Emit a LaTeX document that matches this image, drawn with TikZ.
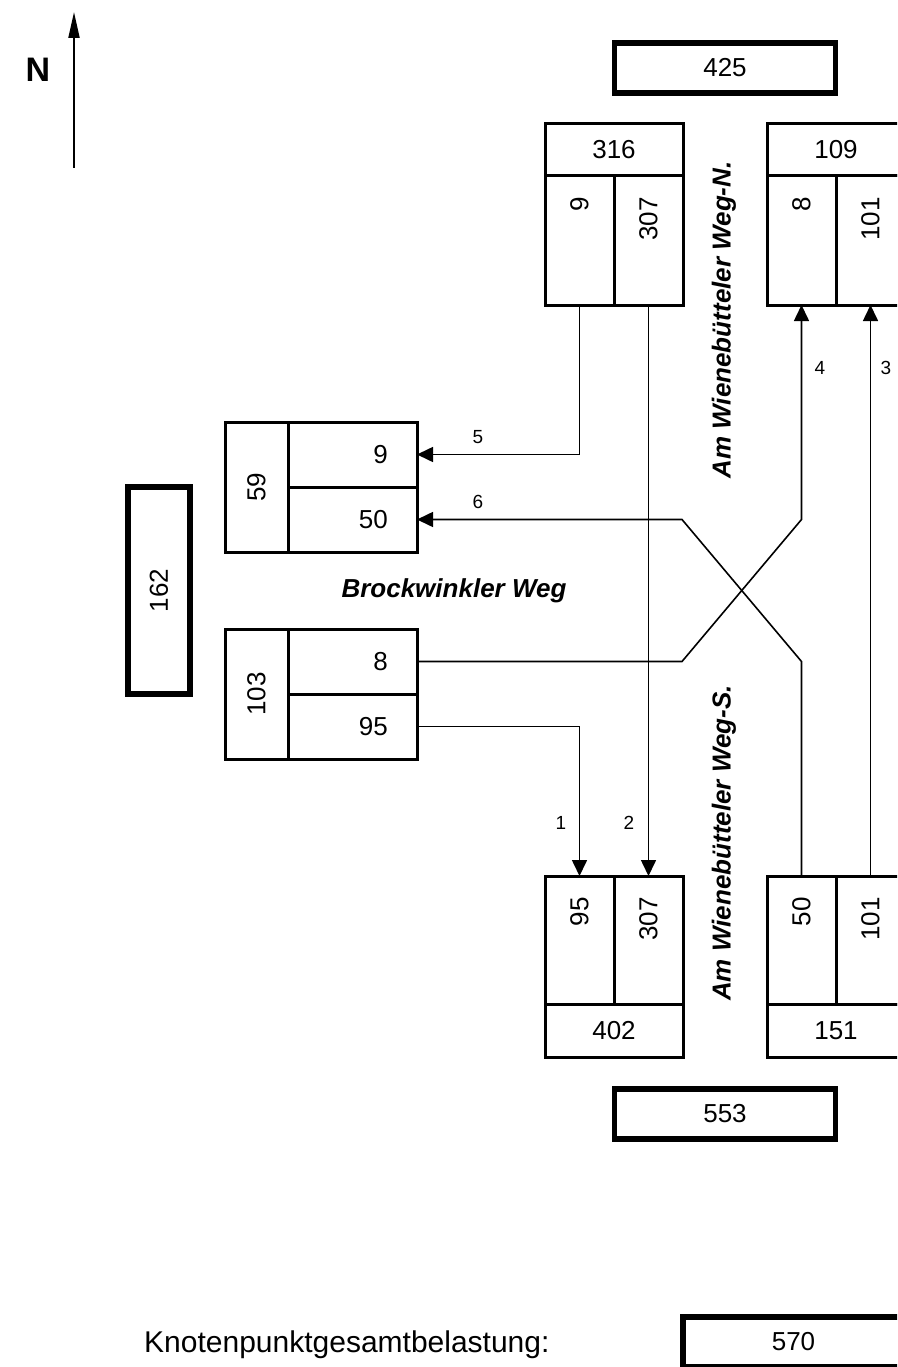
\documentclass[tikz,border=0pt]{standalone}
\usepackage{fontspec}
\setmainfont{Liberation Sans}
\usetikzlibrary{arrows.meta, positioning}

\begin{document}
\begin{tikzpicture}[
    x=1pt, y=-1pt,
    every node/.style={font=\fontsize{26}{30}\selectfont, inner sep=0pt},
    cell/.style={rectangle, draw=black, line width=3pt, outer sep=0pt},
    wide/.style={cell, minimum width=138pt, minimum height=52pt},
    lane/.style={cell, minimum width=69pt, minimum height=129pt},
    half/.style={cell, minimum width=129pt, minimum height=65pt},
    side/.style={cell, minimum width=63pt, minimum height=130pt},
    total/.style={rectangle, draw=black, line width=5.5pt, outer sep=0pt, minimum width=221pt, minimum height=50pt},
    upright/.style={rotate=90, anchor=east},
    road/.style={font=\fontsize{26}{30}\selectfont\bfseries\itshape},
    tag/.style={font=\fontsize{19}{22}\selectfont},
    flow/.style={line width=1.6pt},
    arrow/.style={flow, -{Triangle[length=16pt, width=15pt]}}
]
\useasboundingbox (0,0) rectangle (897,1367);
\clip (0,0) rectangle (897,1367);

% north arrow
\node[font=\fontsize{34}{40}\selectfont\bfseries] (north) at (38,70) {N};
\coordinate (ntail) at (74,168);
\coordinate (nhead) at (74,12);
\draw[line width=2pt, -{Triangle[length=26pt, width=11pt]}] (ntail) -- (nhead);

% arm totals
\node[total] (top) at (725,68) {425};
\node[total] (bottom) at (725,1114) {553};
\node[total, minimum width=62pt, minimum height=207pt] (west) at (159,590.5) {\rotatebox{90}{162}};

% north arm
\node[wide] (n316) at (614,150) {316};
\node[lane, anchor=north west] (n316a) at (n316.south west) {};
\node[lane, anchor=north east] (n316b) at (n316.south east) {};
\node[upright] (t316a) at ([yshift=-21pt]n316a.north) {9};
\node[upright] (t316b) at ([yshift=-21pt]n316b.north) {307};

\node[wide] (n109) at (836,150) {109};
\node[lane, anchor=north west] (n109a) at (n109.south west) {};
\node[lane, anchor=north east] (n109b) at (n109.south east) {};
\node[upright] (t109a) at ([yshift=-21pt]n109a.north) {8};
\node[upright] (t109b) at ([yshift=-21pt]n109b.north) {101};

% south arm
\node[wide, minimum height=53pt] (n402) at (614,1030.5) {402};
\node[lane, minimum height=128pt, anchor=south west] (n402a) at (n402.north west) {};
\node[lane, minimum height=128pt, anchor=south east] (n402b) at (n402.north east) {};
\node[upright] (t402a) at ([yshift=-21pt]n402a.north) {95};
\node[upright] (t402b) at ([yshift=-21pt]n402b.north) {307};

\node[wide, minimum height=53pt] (n151) at (836,1030.5) {151};
\node[lane, minimum height=128pt, anchor=south west] (n151a) at (n151.north west) {};
\node[lane, minimum height=128pt, anchor=south east] (n151b) at (n151.north east) {};
\node[upright] (t151a) at ([yshift=-21pt]n151a.north) {50};
\node[upright] (t151b) at ([yshift=-21pt]n151b.north) {101};

% west arm
\node[side] (n59) at (256.5,487) {\rotatebox{90}{59}};
\node[half, anchor=north west] (n59a) at (n59.north east) {};
\node[half, anchor=south west] (n59b) at (n59.south east) {};
\node[anchor=east] (t59a) at ([xshift=-29pt]n59a.east) {9};
\node[anchor=east] (t59b) at ([xshift=-29pt]n59b.east) {50};

\node[side] (n103) at (256.5,694) {\rotatebox{90}{103}};
\node[half, anchor=north west] (n103a) at (n103.north east) {};
\node[half, anchor=south west] (n103b) at (n103.south east) {};
\node[anchor=east] (t103a) at ([xshift=-29pt]n103a.east) {8};
\node[anchor=east] (t103b) at ([xshift=-29pt]n103b.east) {95};

% streams
\coordinate (bend) at (682,0);
\draw[arrow] (n103b.east) -| (n402a.north);
\draw[arrow] (n316b.south) -- (n402b.north);
\draw[arrow] (n151b.north) -- (n109b.south);
\draw[arrow] (n103a.east) -- (bend |- n103a.east) -- (n109a.south |- n59b.east) -- (n109a.south);
\draw[arrow] (n316a.south) |- (n59a.east);
\draw[arrow] (n151a.north) -- (n151a.north |- n103a.east) -- (bend |- n59b.east) -- (n59b.east);

\node[tag] (l1) at (561,823) {1};
\node[tag] (l2) at (629,823) {2};
\node[tag] (l3) at (886,368) {3};
\node[tag] (l4) at (820,368) {4};
\node[tag] (l5) at (478,437) {5};
\node[tag] (l6) at (478,502) {6};

% street names
\node[road, rotate=90] (roadN) at (724,320) {Am Wienebütteler Weg-N.};
\node[road, rotate=90] (roadS) at (724,843) {Am Wienebütteler Weg-S.};
\node[road] (roadW) at (454,591) {Brockwinkler Weg};

% junction total
\node[font=\fontsize{30}{36}\selectfont, anchor=base west] (caption) at (144,1352) {Knotenpunktgesamtbelastung:};
\node[total] (sum) at (793.5,1342) {570};

\end{tikzpicture}
\end{document}
